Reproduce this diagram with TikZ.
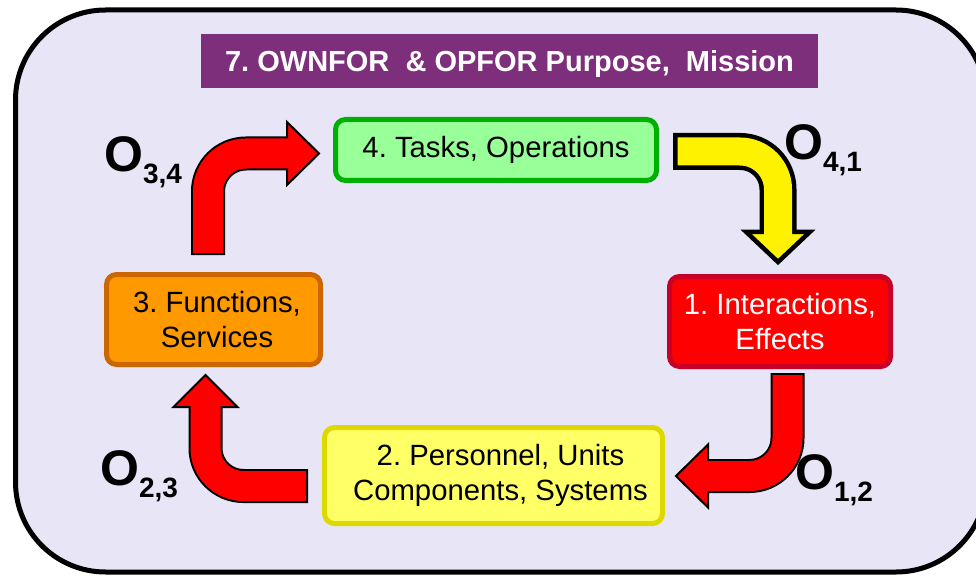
\documentclass[tikz,border=0pt]{standalone}
\usepackage{fontspec}
\setmainfont{Liberation Sans}
\usetikzlibrary{calc}
\definecolor{framefill}{RGB}{232,230,246}
\definecolor{ownpurple}{RGB}{126,47,123}
\definecolor{taskgreen}{RGB}{153,255,153}
\definecolor{taskedge}{RGB}{0,176,0}
\definecolor{effred}{RGB}{255,0,0}
\definecolor{effedge}{RGB}{200,0,40}
\definecolor{persyellow}{RGB}{255,255,102}
\definecolor{persedge}{RGB}{221,217,0}
\definecolor{funcorange}{RGB}{255,153,0}
\definecolor{funcedge}{RGB}{204,102,0}
\newcommand{\olab}[1]{{\fontsize{50}{50}\selectfont\bfseries O}\raisebox{-12pt}{\fontsize{28}{28}\selectfont\bfseries #1}}
\frenchspacing
\tikzset{
  box/.style={draw, rounded corners=10pt, line width=5pt, align=center, inner sep=0pt, font=\fontsize{29.3}{35.5}\selectfont},
  shaft/.style={line width=34pt, rounded corners=38pt},
  shaftin/.style={line width=30pt, rounded corners=38pt, shorten <=2pt, shorten >=-4pt},
  tiphead/.style={line width=2pt, line join=miter},
  olabel/.style={anchor=base west, inner sep=0pt}
}
\begin{document}
\begin{tikzpicture}[x=1pt, y=-1pt]
\useasboundingbox (0,0) rectangle (976,577);
\clip (0,0) rectangle (976,577);
% frame
\draw[line width=5pt, fill=framefill, rounded corners=90pt] (15.5,10) rectangle (986,572);

% 7. purpose, mission
\node[fill=ownpurple, minimum width=617pt, minimum height=54pt, inner sep=0pt, text=white, font=\bfseries\fontsize{29}{34}\selectfont] (mission) at (509.5,61) {\raisebox{-3pt}[\height][\depth]{7. OWNFOR\ \ \& OPFOR Purpose,\ \ Mission}};

% 4. tasks
\node[box, draw=taskedge, fill=taskgreen, minimum width=321pt, minimum height=61pt] (tasks) at (496,150) {4. Tasks, Operations};
% 1. interactions
\node[box, draw=effedge, fill=effred, text=white, minimum width=221pt, minimum height=90pt] (inter) at (780,321.5) {1. Interactions,\\Effects};
% 2. personnel
\node[box, draw=persedge, fill=persyellow, minimum width=338pt, minimum height=96pt] (pers) at (493.5,475.5) {\hspace*{14pt}2. Personnel, Units\\\hspace*{14pt}Components, Systems};
% 3. functions
\node[box, draw=funcedge, fill=funcorange, minimum width=214pt, minimum height=90pt] (func) at (213.5,319.5) {\hspace*{7pt}3. Functions,\\\hspace*{7pt}Services};

% O34: functions -> tasks
\coordinate (o34s) at (208,255);
\coordinate (o34h) at (287,153.5);
\coordinate (o34t) at (319,153.5);
\draw[shaft] (o34s) |- (o34h);
\filldraw[tiphead, fill=effred] ($(o34h)!31.5pt!90:(o34t)$) -- (o34t) -- ($(o34h)!31.5pt!-90:(o34t)$) -- cycle;
\draw[shaftin, effred] (o34s) |- (o34h);
\node[olabel] (l34) at (104,172) {\olab{3,4}};

% O41: tasks -> interactions
\coordinate (o41s) at (673,151.5);
\coordinate (o41h) at (778,232);
\coordinate (o41t) at (778,262);
\draw[shaft, line width=37pt] (o41s) -| (o41h);
\filldraw[tiphead, line width=4.5pt, fill=yellow] ($(o41h)!31.75pt!90:(o41t)$) -- (o41t) -- ($(o41h)!31.75pt!-90:(o41t)$) -- cycle;
\draw[shaftin, line width=28pt, shorten <=4.5pt, shorten >=-6pt, yellow] (o41s) -| (o41h);
\node[olabel] (l41) at (784,160) {\olab{4,1}};

% O12: interactions -> personnel
\coordinate (o12s) at (787.5,373);
\coordinate (o12h) at (708,476);
\coordinate (o12t) at (676,476);
\draw[shaft] (o12s) |- (o12h);
\filldraw[tiphead, fill=effred] ($(o12h)!31.5pt!90:(o12t)$) -- (o12t) -- ($(o12h)!31.5pt!-90:(o12t)$) -- cycle;
\draw[shaftin, effred] (o12s) |- (o12h);
\node[olabel] (l12) at (795,489) {\olab{1,2}};

% O23: personnel -> functions
\coordinate (o23s) at (308,486);
\coordinate (o23h) at (205.5,407);
\coordinate (o23t) at (205.5,375);
\draw[shaft] (o23s) -| (o23h);
\filldraw[tiphead, fill=effred] ($(o23h)!32pt!90:(o23t)$) -- (o23t) -- ($(o23h)!32pt!-90:(o23t)$) -- cycle;
\draw[shaftin, effred] (o23s) -| (o23h);
\node[olabel] (l23) at (100,485) {\olab{2,3}};
\end{tikzpicture}
\end{document}
